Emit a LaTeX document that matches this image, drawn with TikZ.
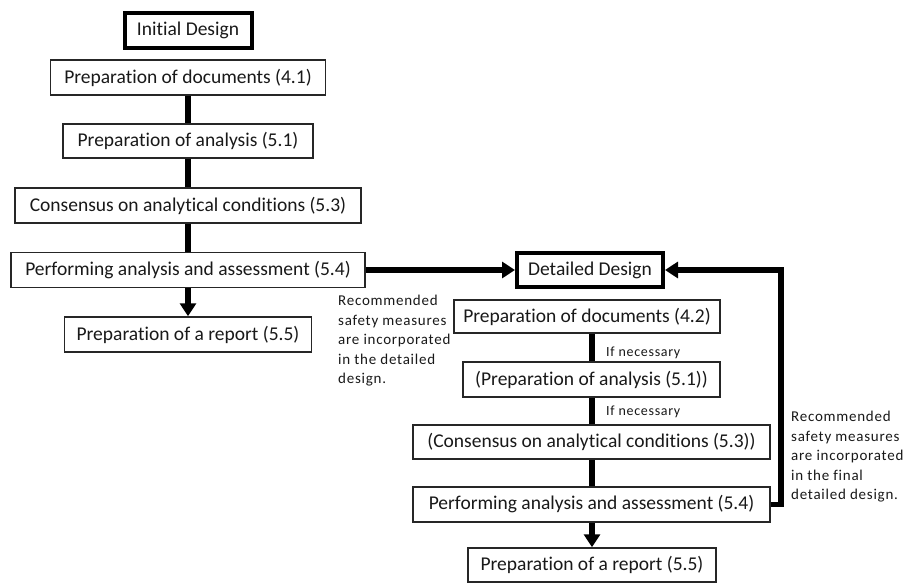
\documentclass[tikz,border=0pt]{standalone}
\usepackage{fontspec}
\setmainfont{Carlito}[Ligatures=NoCommon]
\usetikzlibrary{arrows.meta}

\tikzset{
  box/.style={draw=black!85, line width=1.5pt, fill=white, inner sep=0pt,
    font=\fontsize{19.5}{23}\selectfont, text=black!90},
  mainbox/.style={box, line width=4pt, draw=black},
  conn/.style={line width=5.5pt, black, line join=miter},
  arr/.style={conn, -{Triangle[length=13pt,width=16pt]}},
  note/.style={inner sep=0pt, align=left, text=black!90,
    font=\fontsize{15}{19.5}\selectfont\addfontfeatures{LetterSpace=5}},
  cond/.style={inner sep=0pt, anchor=base west, text=black!90,
    font=\fontsize{14}{16}\selectfont\addfontfeatures{LetterSpace=5}}
}

\begin{document}
\begin{tikzpicture}[x=1pt, y=-1pt]
\useasboundingbox[fill=white] (0,0) rectangle (905,583);

% ---- initial design column ----
\node[mainbox, minimum width=127pt, minimum height=35pt] (init) at (188,30.5) {Initial Design};
\node[box, minimum width=275pt, minimum height=35pt] (d41) at (188,77.5) {Preparation of documents (4.1)};
\node[box, minimum width=250pt, minimum height=34pt] (a51) at (188,141) {Preparation of analysis (5.1)};
\node[box, minimum width=346pt, minimum height=35pt] (c53) at (188,205.5) {Consensus on analytical conditions (5.3)};
\node[box, minimum width=354pt, minimum height=35pt] (p54) at (188,270) {Performing analysis and assessment (5.4)};
\node[box, minimum width=247pt, minimum height=35pt] (r55) at (188,334.5) {Preparation of a report (5.5)};

% ---- detailed design column ----
\node[mainbox, minimum width=146pt, minimum height=34pt] (dd) at (590,270) {Detailed Design};
\node[box, minimum width=266pt, minimum height=33pt] (d42) at (587,316.5) {Preparation of documents (4.2)};
\node[box, minimum width=257pt, minimum height=35pt] (a51b) at (591.5,379.5) {(Preparation of analysis (5.1))};
\node[box, minimum width=357pt, minimum height=34pt] (c53b) at (591.5,442) {(Consensus on analytical conditions (5.3))};
\node[box, minimum width=357pt, minimum height=35pt] (p54b) at (591.5,504.5) {Performing analysis and assessment (5.4)};
\node[box, minimum width=248pt, minimum height=34pt] (r55b) at (592,565) {Preparation of a report (5.5)};

% ---- connectors, left column ----
\draw[conn] (d41.south) -- (d41.south |- a51.north);
\draw[conn] (a51.south) -- (a51.south |- c53.north);
\draw[conn] (c53.south) -- (c53.south |- p54.north);
\draw[arr]  (p54.south) -- (p54.south |- r55.north);

% ---- connectors, right column ----
\coordinate (rx) at (592,0);
\draw[conn] (rx |- d42.south) -- (rx |- a51b.north);
\draw[conn] (rx |- a51b.south) -- (rx |- c53b.north);
\draw[conn] (rx |- c53b.south) -- (rx |- p54b.north);
\draw[arr]  (rx |- p54b.south) -- (rx |- r55b.north);

% ---- hand-over and feedback ----
\draw[arr] (p54.east) -- (p54.east -| dd.west);
\coordinate (fbx) at (781,0);
\draw[arr] (p54b.east) -- (p54b.east -| fbx) -- (fbx |- dd.east) -- (dd.east);

% ---- annotations ----
\node[cond] (n1) at (606,356) {If necessary};
\node[cond] (n2) at (606,415) {If necessary};
\node[note, anchor=north west] (t1) at (338,295) {Recommended\\safety measures\\are incorporated\\in the detailed\\design.};
\node[note, anchor=north west] (t2) at (791,411) {Recommended\\safety measures\\are incorporated\\in the final\\detailed design.};
\end{tikzpicture}
\end{document}
